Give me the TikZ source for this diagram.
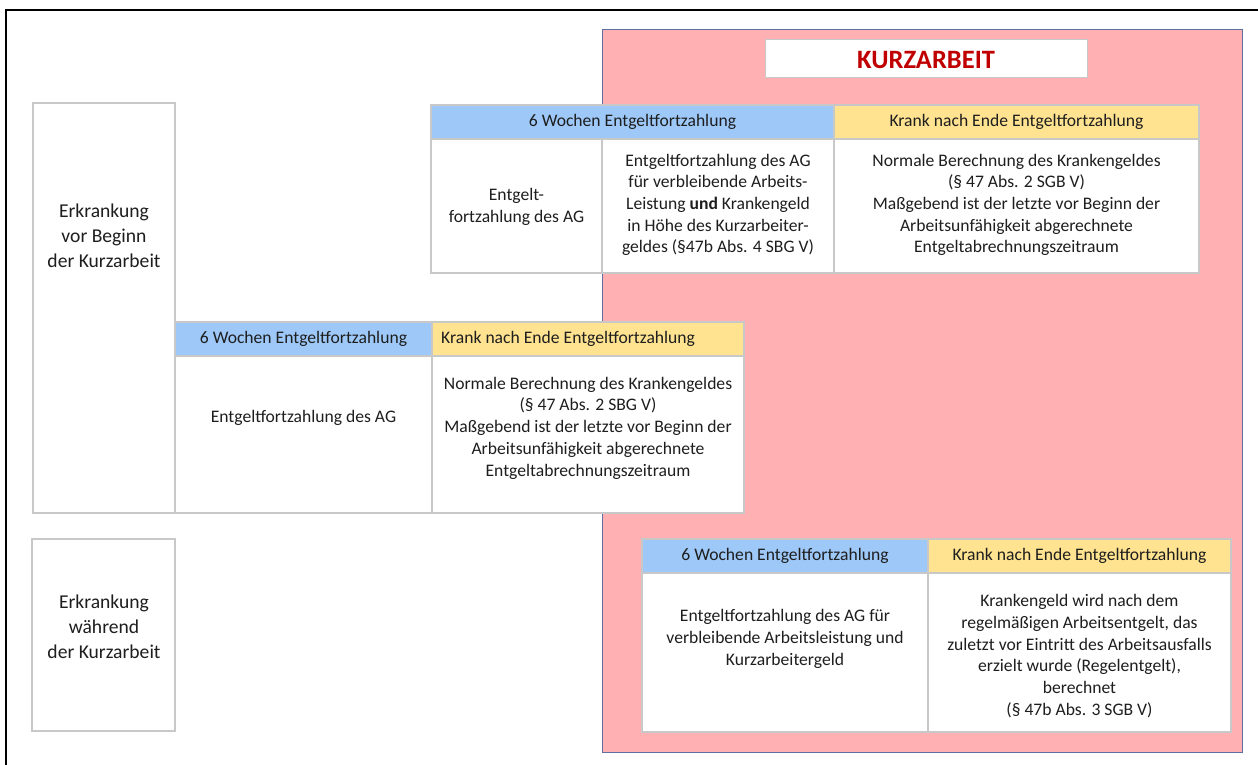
\documentclass[tikz,border=0pt]{standalone}
\usepackage{fontspec}
\setmainfont{Carlito}
\definecolor{hblue}{RGB}{157,200,248}
\definecolor{hyellow}{RGB}{255,227,145}
\definecolor{kpink}{RGB}{255,176,179}
\definecolor{kborder}{RGB}{96,110,160}
\definecolor{cellline}{RGB}{200,200,200}
\definecolor{txt}{RGB}{30,30,30}
\definecolor{kred}{RGB}{192,0,0}
\begin{document}
\begin{tikzpicture}[x=1pt,y=-1pt,
  cell/.style={draw=cellline,line width=1.1pt,fill=white,anchor=north west,inner sep=0pt,outer sep=0pt},
  bluecell/.style={cell,fill=hblue},
  yellowcell/.style={cell,fill=hyellow},
  txtnode/.style={text=txt,align=center,inner sep=0pt,font=\fontsize{17.6}{21.7}\selectfont},
  sidetxt/.style={text=txt,align=center,inner sep=0pt,font=\fontsize{19.6}{25}\selectfont}
]
\useasboundingbox (0,0) rectangle (1258,765);
\fill[white] (0,0) rectangle (1258,765);
% outer frame (cropped at right and bottom)
\draw[line width=2pt,black] (6,800) -- (6,10) -- (1300,10);
% Kurzarbeit area
\node[draw=kborder,line width=1pt,fill=kpink,anchor=north west,minimum width=640pt,minimum height=723pt,inner sep=0pt] (kurz) at (602,29) {};
\node[draw=cellline,line width=0.8pt,fill=white,anchor=north west,minimum width=322pt,minimum height=38pt,inner sep=0pt] (ktitlebox) at (765,39) {};
\node[text=kred,font=\fontsize{26.5}{30}\selectfont\bfseries] (ktitle) at (926,60) {KURZARBEIT};

% left boxes
\node[cell,minimum width=142pt,minimum height=410pt] (vorbox) at (33,103) {};
\node[sidetxt] (vortxt) at (104,236) {Erkrankung\\vor Beginn\\der Kurzarbeit};
\node[cell,minimum width=143pt,minimum height=192pt] (waehrbox) at (32,539) {};
\node[sidetxt] (waehrtxt) at (104,627) {Erkrankung\\während\\der Kurzarbeit};

% top table
\node[bluecell,minimum width=403pt,minimum height=34pt] (thb) at (431,105) {};
\node[yellowcell,minimum width=365pt,minimum height=34pt] (thy) at (834,105) {};
\node[cell,minimum width=171pt,minimum height=134pt] (tc1) at (431,139) {};
\node[cell,minimum width=232pt,minimum height=134pt] (tc2) at (602,139) {};
\node[cell,minimum width=365pt,minimum height=134pt] (tc3) at (834,139) {};
\node[txtnode] (thbt) at (632.5,122) {6 Wochen Entgeltfortzahlung};
\node[txtnode] (thyt) at (1016.5,122) {Krank nach Ende Entgeltfortzahlung};
\node[txtnode] (tc1t) at (516.5,207) {Entgelt-\\fortzahlung des AG};
\node[txtnode] (tc2t) at (718,205) {Entgeltfortzahlung des AG\\für verbleibende Arbeits-\\Leistung \textbf{und} Krankengeld\\in Höhe des Kurzarbeiter-\\geldes (§47b Abs. 4 SBG V)};
\node[txtnode] (tc3t) at (1016.5,205) {Normale Berechnung des Krankengeldes\\(§ 47 Abs. 2 SGB V)\\Maßgebend ist der letzte vor Beginn der\\Arbeitsunfähigkeit abgerechnete\\Entgeltabrechnungszeitraum};

% middle table
\node[bluecell,minimum width=257pt,minimum height=34pt] (mhb) at (175,322) {};
\node[yellowcell,minimum width=312pt,minimum height=34pt] (mhy) at (432,322) {};
\node[cell,minimum width=257pt,minimum height=157pt] (mc1) at (175,356) {};
\node[cell,minimum width=312pt,minimum height=157pt] (mc2) at (432,356) {};
\node[txtnode] (mhbt) at (303.5,339) {6 Wochen Entgeltfortzahlung};
\node[txtnode,anchor=west] (mhyt) at (441,339) {Krank nach Ende Entgeltfortzahlung};
\node[txtnode] (mc1t) at (303.5,418) {Entgeltfortzahlung des AG};
\node[txtnode] (mc2t) at (588,428) {Normale Berechnung des Krankengeldes\\(§ 47 Abs. 2 SBG V)\\Maßgebend ist der letzte vor Beginn der\\Arbeitsunfähigkeit abgerechnete\\Entgeltabrechnungszeitraum};

% bottom table
\node[bluecell,minimum width=286pt,minimum height=34pt] (bhb) at (642,539) {};
\node[yellowcell,minimum width=303pt,minimum height=34pt] (bhy) at (928,539) {};
\node[cell,minimum width=286pt,minimum height=159pt] (bc1) at (642,573) {};
\node[cell,minimum width=303pt,minimum height=159pt] (bc2) at (928,573) {};
\node[txtnode] (bhbt) at (785,556) {6 Wochen Entgeltfortzahlung};
\node[txtnode] (bhyt) at (1079.5,556) {Krank nach Ende Entgeltfortzahlung};
\node[txtnode] (bc1t) at (785,639) {Entgeltfortzahlung des AG für\\verbleibende Arbeitsleistung und\\Kurzarbeitergeld};
\node[txtnode] (bc2t) at (1079.5,656) {Krankengeld wird nach dem\\regelmäßigen Arbeitsentgelt, das\\zuletzt vor Eintritt des Arbeitsausfalls\\erzielt wurde (Regelentgelt),\\berechnet\\(§ 47b Abs. 3 SGB V)};
\end{tikzpicture}
\end{document}
